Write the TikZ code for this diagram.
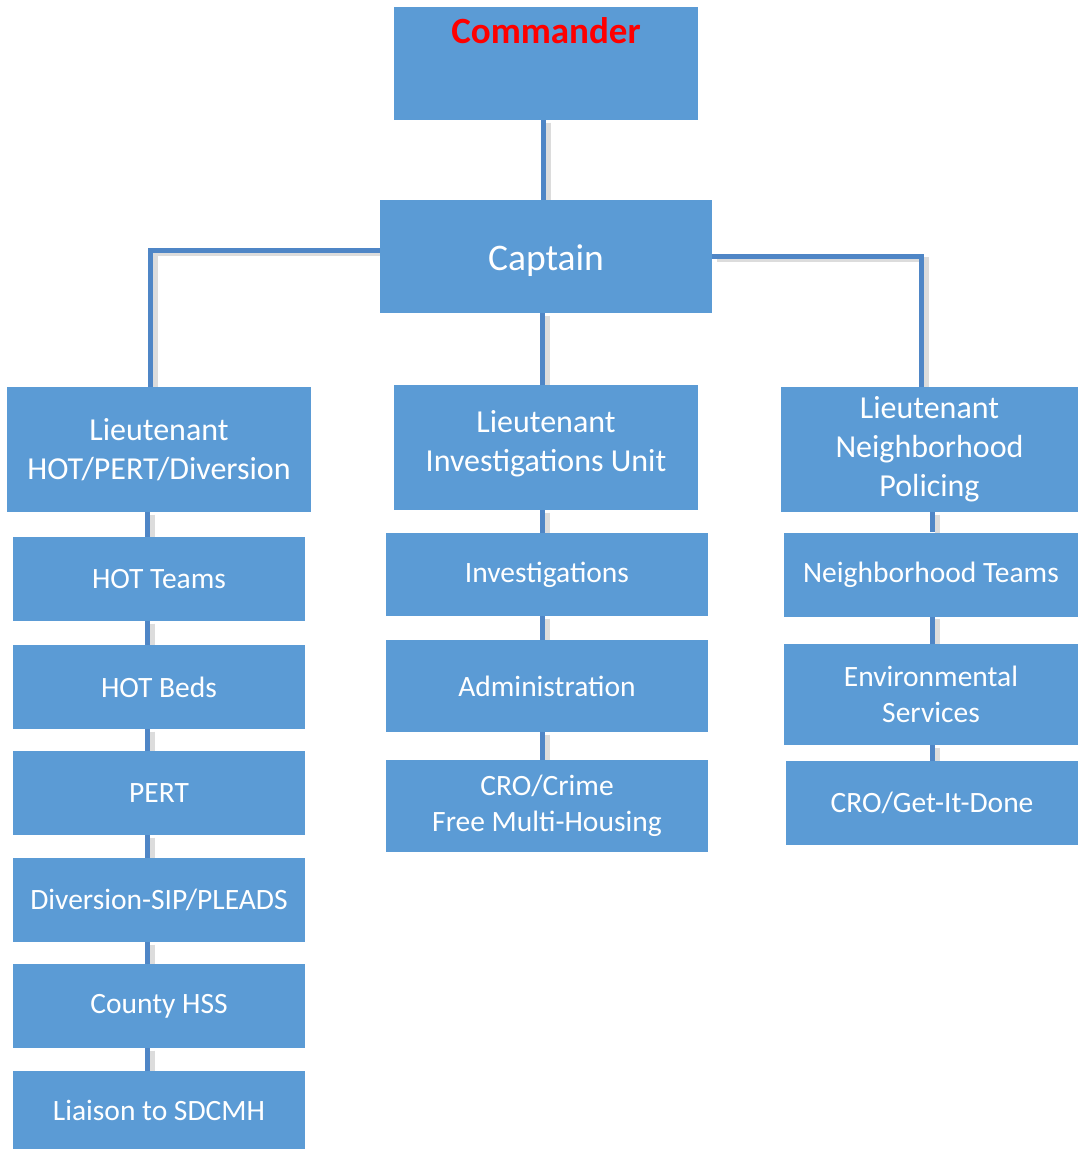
\documentclass[tikz,border=0pt]{standalone}
\usepackage{fontspec}
\setmainfont{Carlito}
\usetikzlibrary{backgrounds}
\definecolor{boxblue}{HTML}{5B9BD5}
\definecolor{linkblue}{HTML}{4F86C6}
\tikzset{
  box/.style={fill=boxblue, draw=none, text=white, align=center, inner sep=0pt},
  ltbox/.style={box, minimum width=304pt, minimum height=125pt, font=\fontsize{32}{39}\selectfont},
  ltlabel/.style={text=white, align=center, inner sep=0pt, font=\fontsize{32}{39}\selectfont},
  smallbox/.style={box, font=\fontsize{29.5}{36}\selectfont},
  link/.style={draw=linkblue, line width=5pt,
    preaction={draw=black!25, line width=5pt, opacity=0.55, transform canvas={shift={(5pt,-2.5pt)}}}},
}
\begin{document}
\begin{tikzpicture}[x=1pt,y=-1pt]
\useasboundingbox (0,0) rectangle (1078,1149);
% top
\node[box, minimum width=304pt, minimum height=113pt,
  label={[anchor=north, yshift=-11pt, inner sep=0pt, text=red, font=\fontsize{37}{44}\selectfont\bfseries]north:Commander}] (cmd) at (546,63.5) {};
\node[box, minimum width=332pt, minimum height=113pt,
  label={[text=white, inner sep=0pt, yshift=-4pt, font=\fontsize{37.5}{44}\selectfont]center:Captain}] (cap) at (546,256.5) {};
% lieutenants
\node[ltbox] (lhot) at (159,449.5) {Lieutenant\\HOT/PERT/Diversion};
\node[ltbox, label={[ltlabel, yshift=4pt]center:Lieutenant\\Investigations Unit}] (linv) at (546,447.5) {};
\node[ltbox, minimum width=297pt] (lnp) at (929.5,449.5) {Lieutenant\\Neighborhood\\Policing};
% left column
\node[smallbox, minimum width=292pt, minimum height=84pt] (hott) at (159,579) {HOT Teams};
\node[smallbox, minimum width=292pt, minimum height=84pt] (hotb) at (159,687) {HOT Beds};
\node[smallbox, minimum width=292pt, minimum height=84pt] (pert) at (159,793) {PERT};
\node[smallbox, minimum width=292pt, minimum height=84pt] (div) at (159,900) {Diversion-SIP/PLEADS};
\node[smallbox, minimum width=292pt, minimum height=84pt] (hss) at (159,1006) {County HSS};
\node[smallbox, minimum width=292pt, minimum height=78pt] (liai) at (159,1110) {Liaison to SDCMH};
% middle column
\node[smallbox, minimum width=322pt, minimum height=83pt] (inv) at (547,574.5) {Investigations};
\node[smallbox, minimum width=322pt, minimum height=92pt] (adm) at (547,686) {Administration};
\node[smallbox, minimum width=322pt, minimum height=92pt] (cro) at (547,806) {CRO/Crime\\Free Multi-Housing};
% right column
\node[smallbox, minimum width=294pt, minimum height=84pt] (nt) at (931,574.5) {Neighborhood Teams};
\node[smallbox, minimum width=294pt, minimum height=101pt] (es) at (931,694.5) {Environmental\\Services};
\node[smallbox, minimum width=292pt, minimum height=84pt] (gid) at (932,803) {CRO/Get-It-Done};
% connectors
\begin{scope}[on background layer]
\draw[link] ([xshift=-3pt]cmd.south) -- ([xshift=-3pt]cmd.south |- cap.north);
\draw[link] ([yshift=6pt]cap.west) -| ([xshift=-9pt]lhot.north);
\draw[link] (cap.east) -| ([xshift=-8.5pt]lnp.north);
\draw[link] ([xshift=-4pt]cap.south) -- ([xshift=-4pt]cap.south |- linv.north);
\draw[link] ([xshift=-12pt]lhot.south) -- ([xshift=-12pt]lhot.south |- hott.north);
\draw[link] ([xshift=-12pt]hott.south) -- ([xshift=-12pt]hotb.north);
\draw[link] ([xshift=-12pt]hotb.south) -- ([xshift=-12pt]pert.north);
\draw[link] ([xshift=-12pt]pert.south) -- ([xshift=-12pt]div.north);
\draw[link] ([xshift=-12pt]div.south) -- ([xshift=-12pt]hss.north);
\draw[link] ([xshift=-12pt]hss.south) -- ([xshift=-12pt]liai.north);
\draw[link] ([xshift=-4pt]linv.south) -- ([xshift=-5pt]inv.north);
\draw[link] ([xshift=-5pt]inv.south) -- ([xshift=-5pt]adm.north);
\draw[link] ([xshift=-5pt]adm.south) -- ([xshift=-5pt]cro.north);
\draw[link] ([xshift=2.5pt]lnp.south) -- ([xshift=1pt]nt.north);
\draw[link] ([xshift=1pt]nt.south) -- ([xshift=1pt]es.north);
\draw[link] ([xshift=1pt]es.south) -- ([xshift=0pt]gid.north);
\end{scope}
\end{tikzpicture}
\end{document}
